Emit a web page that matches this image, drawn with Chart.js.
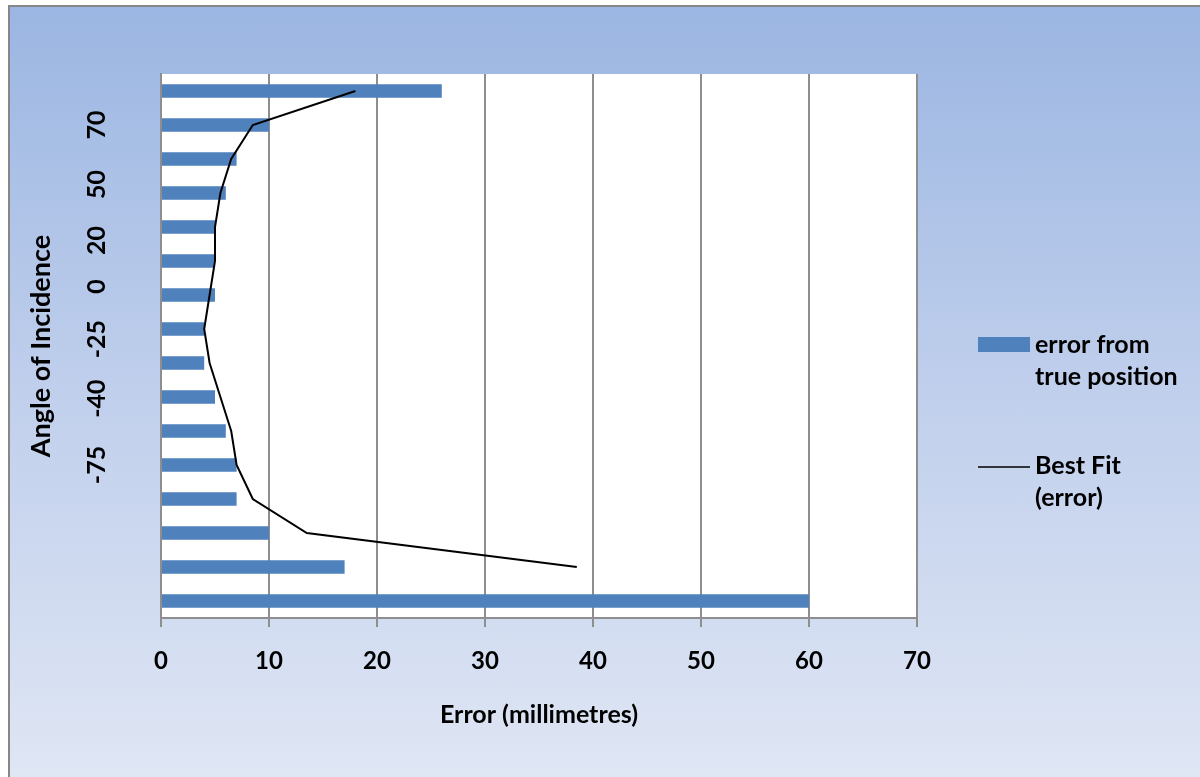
<!DOCTYPE html>
<html>
<head>
<meta charset="utf-8">
<script src="https://cdn.jsdelivr.net/npm/chart.js@4/dist/chart.umd.min.js"></script>
<style>
  html, body { margin: 0; padding: 0; width: 1200px; height: 777px; overflow: hidden; background: #ffffff; }
  #frame {
    position: absolute; left: 8px; top: 5px; right: -20px; bottom: 0;
    border-left: 2px solid #878787; border-top: 2px solid #878787;
    background: linear-gradient(to bottom, #9bb6e2 0%, #c0cfec 50%, #dfe6f4 100%);
  }
  #chart { position: absolute; left: 0; top: 0; }
</style>
</head>
<body>
<div id="frame"></div>
<canvas id="chart" width="1200" height="777"></canvas>
<script>
// Measurement rows, top to bottom
const rows = ['1', '2', '3', '4', '5', '6', '7', '8', '9', '10', '11', '12', '13', '14', '15', '16'];
// Measured error from the true position (mm)
const errorValues = [26, 10, 7, 6, 5, 5, 5, 4, 4, 5, 6, 7, 7, 10, 17, 60];
// Best-fit curve through the errors (mm)
const bestFitValues = [18, 8.5, 6.5, 5.5, 5, 5, 4.5, 4, 4.5, 5.5, 6.5, 7, 8.5, 13.5, 38.5, null];
// Angle labels printed along the category axis, and the row (in category units) each sits at
const angleTicks = ['70', '50', '20', '0', '-25', '-40', '-75'];
const angleTickRows = [1, 2.75, 4.4, 5.75, 7.3, 9.05, 11];
// Legend text, wrapped as printed
const legendLines = [['error from', 'true position'], ['Best Fit', '(error)']];

const FONT = 'Lato, "Open Sans", sans-serif';
const BLUE = '#4f81bd';
const GRID = '#8e8e8e';

// White plot area behind the grid
const plotBackground = {
  id: 'plotBackground',
  beforeDraw(chart) {
    const { ctx, chartArea: a } = chart;
    ctx.save();
    ctx.fillStyle = '#ffffff';
    ctx.fillRect(a.left, a.top, a.right - a.left, a.bottom - a.top);
    ctx.restore();
  }
};

// Angle labels on the category axis, written bottom-to-top
const angleTickLabels = {
  id: 'angleTickLabels',
  afterDraw(chart) {
    const { ctx } = chart;
    const y = chart.scales.y;
    ctx.save();
    ctx.font = 'bold 25px ' + FONT;
    ctx.fillStyle = '#000';
    ctx.textAlign = 'center';
    ctx.textBaseline = 'middle';
    angleTicks.forEach((lab, i) => {
      ctx.save();
      ctx.translate(97, y.getPixelForValue(angleTickRows[i]));
      ctx.rotate(-Math.PI / 2);
      ctx.fillText(lab, 0, 0);
      ctx.restore();
    });
    ctx.restore();
  }
};

const legendPlugin = {
  id: 'sideLegend',
  afterDraw(chart) {
    const ctx = chart.ctx;
    ctx.save();
    ctx.font = 'bold 25px ' + FONT;
    ctx.textBaseline = 'middle';
    ctx.textAlign = 'left';
    const rowsY = [345, 466];
    chart.data.datasets.forEach((ds, i) => {
      const y = rowsY[i];
      if (ds.type === 'line') {
        ctx.strokeStyle = ds.borderColor;
        ctx.lineWidth = 1.5;
        ctx.beginPath();
        ctx.moveTo(978, y + 1);
        ctx.lineTo(1030, y + 1);
        ctx.stroke();
      } else {
        ctx.fillStyle = ds.backgroundColor;
        ctx.fillRect(978, y - 8, 52, 15);
      }
      ctx.fillStyle = '#000';
      legendLines[i].forEach((t, k) => ctx.fillText(t, 1035, y + k * 32));
    });
    ctx.restore();
  }
};

new Chart(document.getElementById('chart'), {
  data: {
    labels: rows,
    datasets: [
      {
        type: 'bar',
        label: 'error from true position',
        data: errorValues,
        indexAxis: 'y',
        backgroundColor: BLUE,
        borderWidth: 0,
        categoryPercentage: 1,
        barPercentage: 0.39,
        order: 1
      },
      {
        type: 'line',
        label: 'Best Fit (error)',
        data: bestFitValues,
        indexAxis: 'y',
        borderColor: '#000000',
        borderWidth: 2,
        pointRadius: 0,
        tension: 0,
        order: 0
      }
    ]
  },
  options: {
    indexAxis: 'y',
    responsive: false,
    animation: false,
    layout: { padding: { top: 74, right: 283, bottom: 0, left: 0 } },
    plugins: { legend: { display: false }, tooltip: { enabled: false } },
    scales: {
      x: {
        type: 'linear',
        position: 'bottom',
        min: 0,
        max: 70,
        ticks: { stepSize: 10, color: '#000', padding: 20, font: { family: FONT, size: 24, weight: 'bold' } },
        grid: { color: GRID, lineWidth: 2, tickLength: 9, drawTicks: true },
        border: { color: GRID, width: 2 },
        title: {
          display: true,
          text: 'Error (millimetres)',
          color: '#000',
          font: { family: FONT, size: 25, weight: 'bold' },
          padding: { top: 0, bottom: 47 }
        },
        afterFit(scale) { scale.height = 159; }
      },
      y: {
        type: 'category',
        position: 'left',
        offset: true,
        grid: { display: false, drawTicks: false },
        border: { display: true, color: GRID, width: 2 },
        ticks: { display: false },
        title: {
          display: true,
          text: 'Angle of Incidence',
          color: '#000',
          font: { family: FONT, size: 27, weight: 'bold' },
          padding: { top: 25, bottom: 0 }
        },
        afterFit(scale) { scale.width = 161; }
      }
    }
  },
  plugins: [plotBackground, angleTickLabels, legendPlugin]
});
</script>
</body>
</html>
